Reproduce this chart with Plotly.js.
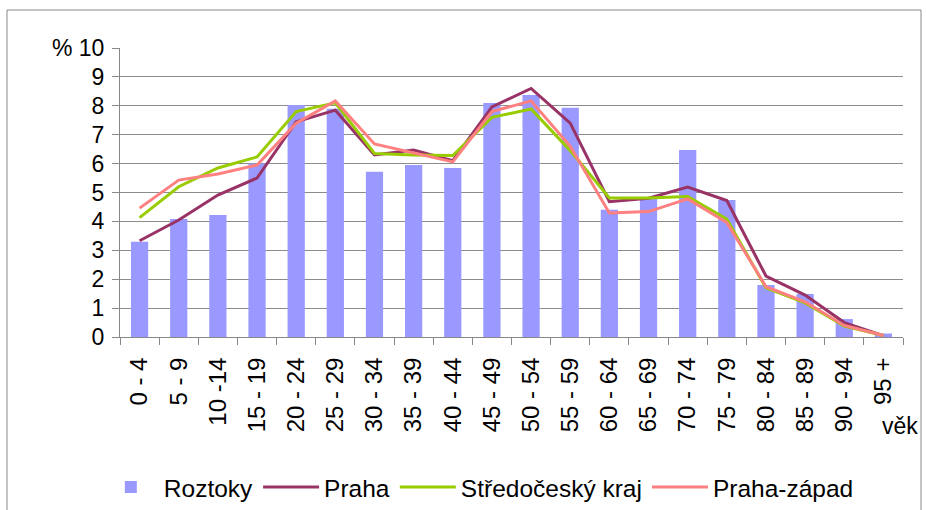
<!DOCTYPE html>
<html>
<head>
<meta charset="utf-8">
<script src="https://cdn.plot.ly/plotly-3.0.1.min.js"></script>
<style>html,body{margin:0;padding:0;background:#fff;}#chart{width:927px;height:510px;}</style>
</head>
<body>
<div id="chart"></div>
<script>
const categories = ["0 - 4","5 - 9","10 -14","15 - 19","20 - 24","25 - 29","30 - 34","35 - 39","40 - 44","45 - 49","50 - 54","55 - 59","60 - 64","65 - 69","70 - 74","75 - 79","80 - 84","85 - 89","90 - 94","95 +"];
const roztoky = [3.3,4.08,4.22,6.0,8.03,7.9,5.72,5.95,5.85,8.1,8.37,7.93,4.4,4.8,6.47,4.74,1.8,1.49,0.62,0.12];
const praha = [3.33,4.05,4.91,5.5,7.45,7.85,6.3,6.47,6.1,7.96,8.6,7.4,4.68,4.8,5.19,4.72,2.11,1.45,0.5,0.05];
const stredocesky = [4.13,5.2,5.85,6.23,7.8,8.1,6.35,6.3,6.28,7.6,7.89,6.45,4.81,4.81,4.86,4.08,1.7,1.18,0.38,0.05];
const prahaZapad = [4.46,5.43,5.64,5.95,7.4,8.17,6.68,6.37,6.06,7.8,8.17,6.6,4.29,4.34,4.78,3.96,1.74,1.22,0.4,0.05];
const yTickVals = [0,1,2,3,4,5,6,7,8,9,10];
const yTickText = ["0","1","2","3","4","5","6","7","8","9","% 10"];

const font = {family: "Liberation Sans, Arial, sans-serif", size: 23, color: "#000"};
const traces = [
  {type: "bar", name: "Roztoky", x: categories, y: roztoky, marker: {color: "#9999FF"}, width: 0.44},
  {type: "scatter", mode: "lines", name: "Praha", x: categories, y: praha, line: {color: "#993366", width: 3}},
  {type: "scatter", mode: "lines", name: "Středočeský kraj", x: categories, y: stredocesky, line: {color: "#99CC00", width: 3}},
  {type: "scatter", mode: "lines", name: "Praha-západ", x: categories, y: prahaZapad, line: {color: "#FF8080", width: 3}}
];
const layout = {
  width: 927, height: 510,
  margin: {l: 120, r: 24, t: 48, b: 173},
  paper_bgcolor: "#fff", plot_bgcolor: "#fff",
  font: font,
  showlegend: true,
  legend: {orientation: "h", x: 0.516, xref: "container", xanchor: "center", y: 0.045, yref: "container", yanchor: "middle",
           font: {family: font.family, size: 24.5}, itemwidth: 56, traceorder: "normal", tracegroupgap: 0},
  xaxis: {type: "category", tickangle: -90, ticks: "outside", ticklen: 7, tickcolor: "#888", tickson: "boundaries", automargin: false,
          ticklabelstandoff: 10,
          showline: true, linecolor: "#888", linewidth: 1, showgrid: false, tickfont: {size: 24}, range: [-0.5, 19.5]},
  yaxis: {range: [0, 10], tickvals: yTickVals, ticktext: yTickText, ticks: "outside", ticklen: 7, tickcolor: "#888", automargin: false,
          ticklabelstandoff: 3,
          showline: true, linecolor: "#888", gridcolor: "#8c8c8c", gridwidth: 1, zeroline: false, tickfont: {size: 23}},
  annotations: [{text: "věk", xref: "paper", yref: "paper", x: 0.996, y: -0.308, xanchor: "center", yanchor: "middle", showarrow: false, font: {size: 23}}],
  shapes: [{type: "rect", xref: "paper", yref: "paper", x0: -0.1443, x1: 1.023, y0: -0.65, y1: 1.1315, line: {color: "#888", width: 1}}]
};
Plotly.newPlot("chart", traces, layout, {displayModeBar: false, staticPlot: true});
</script>
</body>
</html>
